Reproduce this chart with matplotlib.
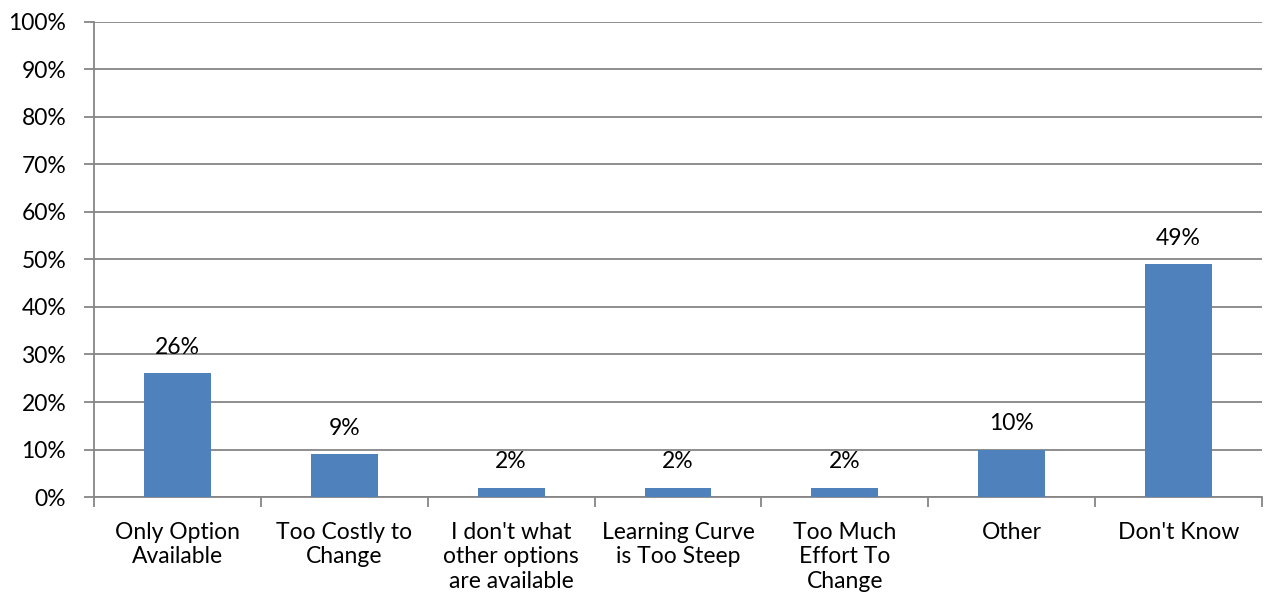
import numpy as np
import matplotlib
matplotlib.use("Agg")
from matplotlib import pyplot as plt
from matplotlib.ticker import FixedLocator, PercentFormatter

# ---- data ----
categories = ["Only Option\nAvailable", "Too Costly to\nChange",
              "I don't what\nother options\nare available",
              "Learning Curve\nis Too Steep", "Too Much\nEffort To\nChange",
              "Other", "Don't Know"]
values = [26, 9, 2, 2, 2, 10, 49]
y_ticks = list(range(0, 101, 10))

plt.rcParams['font.family'] = ['Lato', 'DejaVu Sans']
grid_col = '#868686'
fs = 16.5

fig = plt.figure(figsize=(12.64, 6.09), dpi=100)
ax = fig.add_axes([0.0744, 0.1839, 0.924, 0.78])

x = np.arange(len(values))
bars = ax.bar(x, values, width=0.4, color='#4F81BD', zorder=3)

for b, v in zip(bars, values):
	ax.annotate(f"{v}%", (b.get_x() + b.get_width() / 2, v),
				xytext=(0, 11), textcoords='offset points',
				ha='center', va='bottom', fontsize=fs)

ax.set_xlim(-0.5, len(values) - 0.5)
ax.set_ylim(0, 100)
ax.set_yticks(y_ticks)
ax.yaxis.set_major_formatter(PercentFormatter(decimals=0))
ax.grid(axis='y', color=grid_col, linewidth=1.3, zorder=0)

# category labels centered, tick marks at boundaries
ax.set_xticks(x)
ax.set_xticklabels(categories, fontsize=fs, linespacing=1.2)
ax.tick_params(axis='x', length=0, pad=18)
ax.xaxis.set_minor_locator(FixedLocator(np.arange(-0.5, len(values), 1)))
ax.tick_params(axis='x', which='minor', length=7, width=1.3, color=grid_col)
ax.tick_params(axis='y', labelsize=fs, length=7, width=1.3, color=grid_col, pad=13)

for s in ['top', 'right']:
	ax.spines[s].set_visible(False)
for s in ['left', 'bottom']:
	ax.spines[s].set_color(grid_col)
	ax.spines[s].set_linewidth(1.3)

fig.savefig("out.png", dpi=100)
